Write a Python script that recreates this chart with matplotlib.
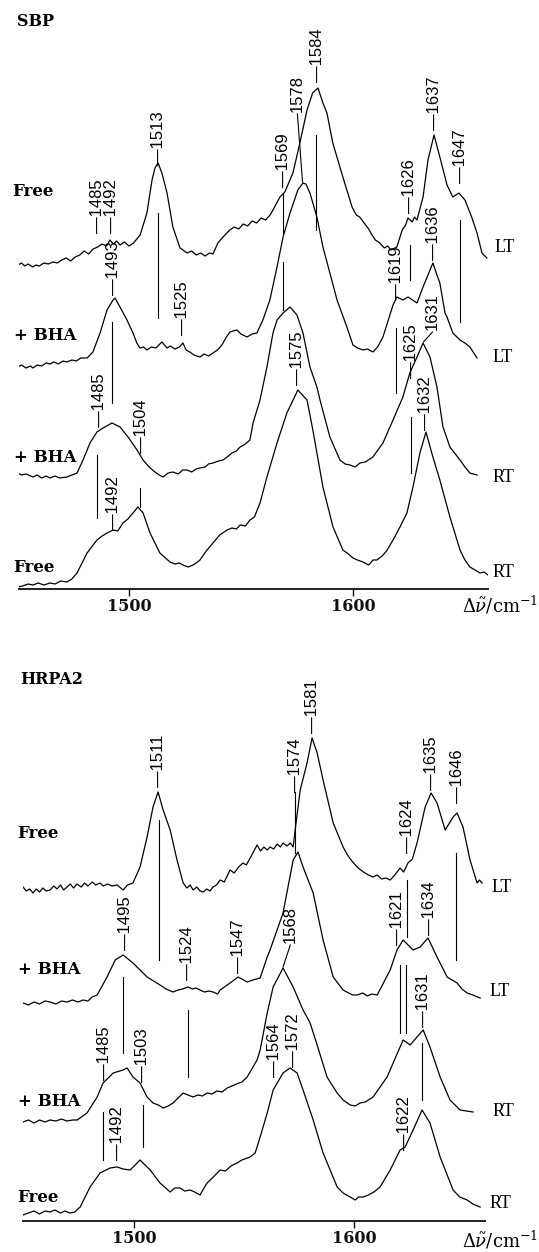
import matplotlib
matplotlib.use('Agg')
import matplotlib.pyplot as plt
import numpy as np

# ---------------- data: SBP (top panel) ----------------
sbp_free_lt_x = [1450.5, 1452, 1453.5, 1455, 1457, 1458.5, 1460, 1462, 1464, 1466, 1468, 1470, 1472, 1474, 1476,
                 1478, 1480, 1482, 1484, 1486, 1488, 1490, 1491.5, 1493, 1494.5, 1496, 1498, 1500, 1502, 1503.5,
                 1505, 1508, 1510.3, 1511.6, 1513, 1514.7, 1517, 1519.6, 1522.8, 1526, 1528, 1530, 1532, 1534,
                 1536, 1537.5, 1539.7, 1542, 1545, 1547, 1549, 1551, 1553, 1555, 1557, 1559, 1561, 1563, 1564.3,
                 1567.4, 1569.6, 1573.2, 1576.3, 1579.5, 1582, 1584.4, 1586.6, 1588.4, 1591, 1595.5, 1599.6,
                 1601.5, 1603, 1605, 1607, 1608.5, 1610, 1612, 1614, 1615.5, 1617, 1619.6, 1622, 1623.5, 1624.6,
                 1626.5, 1627.5, 1628.6, 1631.3, 1633.5, 1636.2, 1638.8, 1642, 1644.6, 1647.3, 1650, 1653, 1655.4,
                 1657.6, 1659.8]
sbp_free_lt_y = [0, 2, -1, 1, -2, 0, -1, 2, 1, 3, 2, 5, 7, 4, 8,
                 10, 14, 11, 16, 18, 21, 19, 25, 21, 24, 20, 23, 19, 22, 26,
                 30, 52, 85, 97, 102, 92, 72, 38, 17, 12, 14, 10, 12, 9,
                 12, 11, 22, 28, 35, 38, 36, 41, 39, 44, 42, 47, 45, 50, 55,
                 68, 73, 92, 122, 155, 172, 177, 162, 152, 122, 88, 58,
                 50, 48, 42, 36, 30, 25, 22, 17, 19, 15, 18, 35, 40, 47,
                 43, 48, 45, 68, 105, 130, 108, 80, 68, 72, 65, 48, 32,
                 12, 7]

sbp_bha_lt_x = [1450.4, 1452, 1454, 1456, 1457.1, 1459, 1461, 1463, 1464.7, 1466.5, 1468.5, 1470.5, 1472.3, 1474.5,
                1476.5, 1478.5, 1481.3, 1483.9, 1487.1, 1490.2, 1492.9, 1493.8, 1495, 1496, 1499.1, 1501.8, 1503.5,
                1504.9, 1506.5, 1508, 1510, 1512, 1514.7, 1517, 1518.5, 1520.5, 1522.5, 1524.1, 1525.5, 1527.2,
                1529, 1531.7, 1533.5, 1535.5, 1537.5, 1539.5, 1541.5, 1543.5, 1545.1, 1546.5, 1548.2, 1550,
                1552.7, 1555, 1557.1, 1559.8, 1562.9, 1566.1, 1568.8, 1571.9, 1575.4, 1577.7, 1579, 1580.8,
                1583.9, 1586.6, 1589.7, 1592.9, 1597.3, 1600, 1602, 1604.5, 1606.5, 1608.9, 1611, 1613.4, 1617.9,
                1619.6, 1622.3, 1624.6, 1628.6, 1631.3, 1635.7, 1637.5, 1638.8, 1641.1, 1642, 1644.6, 1647.8,
                1650, 1652.2, 1655.4]
sbp_bha_lt_y = [0, 2, -1, 1, -1, 2, 1, 4, 3, 5, 3, 6, 5, 7,
                6, 9, 9, 15, 34, 57, 67, 69, 64, 60, 47, 34, 24,
                19, 20, 17, 20, 19, 25, 19, 21, 18, 20, 24, 17, 15,
                12, 10, 13, 11, 14, 17, 22, 30, 35, 36, 37, 33,
                30, 33, 34, 47, 67, 100, 130, 154, 177, 184, 183, 174,
                150, 120, 94, 67, 40, 22, 19, 17, 18, 15, 20, 30, 62,
                70, 67, 70, 64, 80, 104, 92, 84, 54, 50, 34, 27,
                24, 20, 9]

sbp_bha_rt_x = [1450.4, 1452, 1454, 1457.1, 1459, 1461, 1463, 1464.7, 1467, 1469, 1472.3, 1474.5, 1476.8, 1479.5,
                1482.6, 1485.7, 1488.4, 1492.4, 1496, 1499.6, 1503.6, 1506.3, 1509, 1511.6, 1513.5, 1515.2, 1517.5,
                1519.6, 1522, 1524, 1525.9, 1528, 1530, 1531.7, 1534, 1535.5, 1537.5, 1540, 1542, 1543.8, 1546,
                1548, 1549.6, 1552, 1554, 1555.4, 1558.5, 1561.6, 1564.3, 1566.1, 1568.8, 1571.9, 1575, 1577.7,
                1580.8, 1583.9, 1585.3, 1589.7, 1594.2, 1596.5, 1598.7, 1601, 1603.1, 1605.5, 1608.9, 1613.4,
                1617.9, 1622.3, 1625.4, 1628.6, 1631.3, 1634.4, 1637.5, 1640.2, 1643.3, 1647.8, 1650, 1652.2,
                1655.4]
sbp_bha_rt_y = [0, -2, -1, -4, -2, -5, -3, -5, -3, -5, -4, -2, 0, 13,
                30, 41, 45, 50, 46, 36, 23, 13, 6, 1, -2, -4, 0,
                1, -1, 3, 3, 1, 4, 5, 6, 9, 10, 12, 13, 16, 20,
                22, 26, 29, 33, 50, 73, 106, 140, 153, 160, 166, 158, 140,
                106, 86, 73, 36, 13, 9, 8, 6, 10, 11, 16, 30,
                53, 76, 100, 116, 130, 116, 86, 46, 26, 13, 6, 0,
                -2]

sbp_free_rt_x = [1450.4, 1452.5, 1455, 1457.1, 1459.5, 1462, 1464.7, 1467, 1469.5, 1472.3, 1474.5, 1476.8, 1481.3,
                 1485.7, 1488, 1490.2, 1492.9, 1495, 1497.3, 1499.5, 1501.8, 1504, 1506.3, 1509.4, 1513.8, 1518.3,
                 1520.5, 1522.5, 1524.1, 1526.5, 1528.6, 1530, 1531.7, 1534.5, 1537.5, 1540.5, 1543.8, 1546, 1548,
                 1549.6, 1552, 1554, 1556, 1558.5, 1561.6, 1566.1, 1570.5, 1575.4, 1579.5, 1582.1, 1586.6, 1591.1,
                 1595.5, 1598, 1600, 1602, 1604.5, 1607, 1609, 1610.7, 1613, 1615, 1617.9, 1621, 1624.1, 1626.8,
                 1629.9, 1632.6, 1635.7, 1638.8, 1643.3, 1647.8, 1650, 1652.2, 1654.5, 1656.7, 1658.5, 1660.3]
sbp_free_rt_y = [0, 1, 3, 2, 4, 2, 4, 3, 6, 5, 8, 14, 34,
                 47, 51, 54, 57, 56, 64, 68, 74, 80, 74, 54, 34, 25,
                 23, 24, 22, 20, 22, 24, 27, 36, 44, 52, 57, 59, 58,
                 62, 61, 67, 70, 84, 110, 144, 174, 197, 187, 157, 100, 60,
                 37, 33, 29, 27, 25, 22, 27, 27, 31, 36, 47, 60, 74, 100,
                 134, 155, 130, 107, 70, 37, 27, 20, 17, 14, 15, 12]

# ---------------- data: HRPA2 (bottom panel) ----------------
hrp_free_lt_x = [1449.5, 1451, 1452.5, 1454.1, 1455.5, 1457, 1458.5, 1460, 1461.8, 1463.5, 1465, 1466.5, 1468,
                 1469.5, 1471, 1472.5, 1474, 1476, 1477.5, 1479, 1481, 1482.5, 1484.5, 1486, 1488, 1490, 1492.3,
                 1495, 1497, 1499.5, 1502.7, 1505.9, 1508.6, 1510.9, 1513.2, 1516.4, 1519.5, 1522.3, 1524, 1525.5,
                 1526.8, 1528.5, 1530, 1531.4, 1533, 1534.5, 1535.9, 1537.5, 1539.1, 1541, 1543.6, 1545.5, 1547.5,
                 1549.5, 1551, 1553, 1555.9, 1557.5, 1559, 1560.5, 1561.8, 1563.5, 1565, 1566.5, 1567.7, 1569.5,
                 1571, 1572.3, 1573.2, 1575.5, 1578.6, 1580.9, 1583.2, 1585.9, 1590.5, 1595, 1597, 1599, 1601.4,
                 1603, 1605, 1606.5, 1608.6, 1610.5, 1612.5, 1614.5, 1616.4, 1618.5, 1620.9, 1622.5, 1624.5,
                 1626.5, 1628.6, 1632.3, 1635, 1637.7, 1641.4, 1645, 1646.8, 1649.5, 1652.7, 1655.9, 1657, 1658.2]
hrp_free_lt_y = [0, -4, -2, -6, -2, -5, -1, -4, -3, 1, -2, 2, -3,
                 0, 3, -1, 3, 0, 4, 1, 5, 2, 4, 1, 3, 1, 2,
                 -3, 2, 4, 20, 50, 80, 95, 77, 57, 27, 4, -1, 2,
                 -3, 0, -4, -5, -2, -4, 0, 2, 7, 5, 17, 14, 20,
                 24, 22, 30, 42, 36, 40, 37, 40, 38, 43, 40, 44, 41,
                 44, 40, 57, 97, 124, 149, 134, 107, 64, 40, 32, 26, 20,
                 17, 14, 12, 10, 12, 8, 9, 7, 12, 19, 15, 24,
                 28, 44, 80, 94, 84, 57, 70, 74, 60, 27, 4, 7, 4]

hrp_bha_lt_x = [1449.5, 1452, 1454.5, 1457, 1459.5, 1461.8, 1464.5, 1467, 1469.5, 1472, 1474.5, 1476.8, 1479,
                1481, 1483.2, 1487.7, 1491.4, 1495, 1499.5, 1505.9, 1511.8, 1514.5, 1517.7, 1520, 1522, 1524.5,
                1526.5, 1528, 1530, 1532, 1534, 1535.9, 1538, 1539.1, 1543.6, 1547.3, 1551.4, 1554, 1557.3,
                1560.5, 1561.8, 1567.7, 1572.3, 1574.5, 1576.8, 1581.4, 1585.9, 1590.5, 1595, 1597.5, 1599.5,
                1601.4, 1604, 1606, 1608, 1610.5, 1616.4, 1619.5, 1622.3, 1626.8, 1630, 1633.6, 1637.7, 1642.3,
                1646.8, 1649, 1651.4, 1654, 1657.3]
hrp_bha_lt_y = [0, -2, 1, -1, 2, 1, -1, 2, 1, 3, 1, 3, 2,
                6, 8, 26, 43, 48, 40, 26, 18, 14, 11, 13, 14, 16,
                14, 15, 13, 11, 12, 11, 9, 13, 20, 26, 21, 23, 25,
                46, 53, 90, 143, 151, 136, 110, 63, 26, 13, 10, 8,
                8, 10, 7, 9, 8, 33, 53, 63, 53, 56, 65, 46, 26,
                20, 14, 10, 8, 5]

hrp_bha_rt_x = [1449.5, 1452, 1454.5, 1457, 1459.5, 1461.8, 1464.5, 1467, 1469.5, 1472, 1474.1, 1478.6, 1483.2,
                1485.9, 1490.5, 1495, 1496.8, 1499.5, 1502.7, 1505.9, 1508.6, 1511, 1513.2, 1515.5, 1517.7,
                1520, 1522.3, 1524.5, 1526.8, 1529, 1531, 1533.2, 1535.5, 1537.5, 1540, 1542.3, 1544.5, 1546.5,
                1549, 1551.4, 1555.9, 1557.3, 1560.5, 1563.2, 1567.7, 1572.3, 1576.8, 1580, 1583.2, 1587.7,
                1592.3, 1595, 1598.2, 1600.5, 1602.7, 1605, 1606.5, 1608.6, 1615, 1620.9, 1622.3, 1625.5, 1628.6,
                1631.4, 1634.5, 1639.1, 1643.6, 1648.2, 1651, 1654.1]
hrp_bha_rt_y = [0, 2, -1, 2, 0, 2, 1, 3, 1, 2, 2, 9, 25,
                39, 49, 52, 54, 45, 39, 25, 19, 17, 14, 16, 19,
                24, 29, 27, 25, 27, 26, 29, 28, 31, 30, 34, 36, 38,
                40, 45, 62, 72, 109, 135, 154, 135, 112, 99, 77, 45,
                29, 22, 17, 16, 19, 20, 22, 25, 45, 75, 82, 77, 85,
                92, 75, 45, 22, 12, 11, 10]

hrp_free_rt_x = [1449.5, 1452, 1454.5, 1457, 1459.5, 1461.8, 1464, 1466.5, 1468.5, 1470.9, 1473, 1475.5, 1480,
                 1484.5, 1489.1, 1492.3, 1495, 1498.2, 1500.5, 1502.7, 1505, 1507.3, 1511.8, 1516.4, 1518.5,
                 1520.9, 1523, 1525.5, 1527.5, 1530, 1531.5, 1533.2, 1536, 1539.1, 1541.5, 1544, 1546.8, 1549,
                 1552.7, 1555, 1557.3, 1560.5, 1563.2, 1567.7, 1570.9, 1574.1, 1576.8, 1581.4, 1585.9, 1592.3,
                 1595, 1598.2, 1600.5, 1602, 1604.1, 1606.5, 1609, 1611.8, 1616.4, 1620.9, 1623.2, 1626.8, 1630.9,
                 1634.5, 1639.1, 1645, 1648, 1651.4, 1654, 1657.3]
hrp_free_rt_y = [0, 2, 4, 1, 4, 3, 5, 2, 4, 2, 3, 8, 28,
                 42, 47, 48, 46, 45, 50, 55, 50, 45, 32, 23, 27,
                 27, 24, 25, 23, 20, 26, 32, 38, 45, 44, 49, 52, 55,
                 58, 62, 78, 102, 125, 142, 147, 142, 125, 95, 62, 28,
                 22, 18, 15, 18, 18, 20, 23, 28, 45, 65, 68, 85, 105,
                 92, 58, 25, 18, 15, 11, 8]

sample_labels = ["Free", "+ BHA", "+ BHA", "Free"]
temp_labels = ["LT", "LT", "RT", "RT"]
panel_titles = ["SBP", "HRPA2"]
tick_values = [1500, 1600]

# peak annotations: (text, wavenumber, label bottom, dashed?, leader end)
sbp_peaks = [("1513", 1513, 424, True, None), ("1485", 1486, 356, True, None), ("1492", 1492, 356, True, None),
             ("1569", 1568.8, 402, True, None), ("1584", 1584, 507, True, None), ("1626", 1625.4, 376, True, None),
             ("1637", 1636.6, 459, True, None), ("1647", 1647.8, 406, True, None),
             ("1493", 1493, 294, True, None), ("1525", 1524.1, 254, True, None),
             ("1578", 1575.2, 477, False, (1577.5, 407)), ("1619", 1619.6, 289, True, None),
             ("1636", 1636, 329, True, None),
             ("1485", 1487, 162, True, None), ("1504", 1505.5, 136, True, None), ("1625", 1626, 211, True, None),
             ("1631", 1635.5, 259, False, (1631.5, 247)),
             ("1492", 1493, 59, True, None), ("1575", 1575.2, 204, True, None), ("1632", 1632.5, 159, True, None)]
sbp_lines = [(1513, 271, 376), (1492.4, 186, 267), (1485.7, 71, 134), (1504.9, 82, 101),
             (1568.8, 356, 396), (1568.8, 279, 327), (1583.5, 359, 454), (1625.4, 309, 344),
             (1619.2, 196, 261), (1625.9, 116, 172), (1647.8, 267, 369)]

hrp_peaks = [("1511", 1511, 434, True, None), ("1574", 1573.2, 429, True, None), ("1581", 1581, 488, True, None),
             ("1624", 1624.5, 368, True, None), ("1635", 1635, 431, True, None), ("1646", 1646.8, 418, True, None),
             ("1495", 1495.9, 271, True, None), ("1524", 1524.5, 241, True, None), ("1547", 1547.3, 248, True, None),
             ("1621", 1619.5, 276, True, None), ("1634", 1634.5, 286, True, None),
             ("1568", 1571, 278, False, (1567.7, 254)),
             ("1485", 1486.4, 141, True, None), ("1503", 1504, 139, True, None), ("1631", 1631.4, 194, True, None),
             ("1564", 1564, 144, True, None), ("1572", 1572.3, 154, True, None),
             ("1492", 1492.3, 61, True, None), ("1622", 1622.7, 71, True, None)]
hrp_lines = [(1511.4, 261, 401), (1573.2, 368, 429), (1646.4, 261, 368), (1624.1, 284, 341),
             (1495, 168, 244), (1524.5, 144, 211), (1485.9, 61, 109), (1504, 74, 116),
             (1620.9, 188, 256), (1623.6, 188, 256), (1630.9, 121, 178)]

# ---------------- layout ----------------
W, H = 539, 1252
plt.rcParams['mathtext.fontset'] = 'dejavuserif'
fig = plt.figure(figsize=(W / 100, H / 100), dpi=100)


def fx(px):
    return px / W


def fy(py):
    return 1 - py / H


panels = [
    dict(rect=[fx(19), fy(589), 469 / W, 589 / H], xlim=(1450.9, 1660.3), ylim=(0, 589),
         traces=[(sbp_free_lt_x, sbp_free_lt_y), (sbp_bha_lt_x, sbp_bha_lt_y),
                 (sbp_bha_rt_x, sbp_bha_rt_y), (sbp_free_rt_x, sbp_free_rt_y)],
         offsets=[324, 222, 116, 2], peaks=sbp_peaks, lines=sbp_lines,
         title_pos=(17, 22), sample_pos=[(12, 192), (14, 335), (14, 458), (13, 567)],
         temp_pos=[(495, 248), (493, 357), (493, 477), (493, 572)], xlabel_y=605),
    dict(rect=[fx(23), fy(1221), 462 / W, 581 / H], xlim=(1449.5, 1659.5), ylim=(0, 581),
         traces=[(hrp_free_lt_x, hrp_free_lt_y), (hrp_bha_lt_x, hrp_bha_lt_y),
                 (hrp_bha_rt_x, hrp_bha_rt_y), (hrp_free_rt_x, hrp_free_rt_y)],
         offsets=[334, 218, 99, 6], peaks=hrp_peaks, lines=hrp_lines,
         title_pos=(20, 680), sample_pos=[(17, 833), (18, 970), (18, 1101), (17, 1198)],
         temp_pos=[(492, 887), (490, 992), (493, 1112), (490, 1203)], xlabel_y=1240),
]

for i, p in enumerate(panels):
    ax = fig.add_axes(p['rect'])
    ax.set_xlim(*p['xlim'])
    ax.set_ylim(*p['ylim'])
    ax.patch.set_visible(False)
    for s in ['top', 'left', 'right']:
        ax.spines[s].set_visible(False)
    ax.spines['bottom'].set_linewidth(1.4)
    ax.spines['bottom'].set_color('#222222')
    ax.set_yticks([])
    ax.set_xticks(tick_values)
    ax.set_xticklabels([str(t) for t in tick_values], family='DejaVu Serif', weight='bold', fontsize=11.5)
    ax.tick_params(axis='x', direction='out', length=5, width=1.0, pad=1.5, colors='#111111')

    for (xs, ys), off in zip(p['traces'], p['offsets']):
        ax.plot(xs, np.array(ys) + off, color='black', lw=0.9, solid_joinstyle='round')

    for (xw, y0, y1) in p['lines']:
        ax.plot([xw, xw], [y0, y1], color='black', lw=0.8)

    for (txt, xw, yb, dash, lead) in p['peaks']:
        s = ('\u2014' + txt) if dash else txt
        ax.text(xw, yb, s, rotation=90, ha='center', va='bottom', fontsize=12,
                family='Liberation Sans', color='black')
        if lead is not None:
            ax.plot([xw, lead[0]], [yb - 2, lead[1]], color='black', lw=0.8)

    fig.text(fx(p['title_pos'][0]), fy(p['title_pos'][1]), panel_titles[i], family='DejaVu Serif',
             weight='bold', fontsize=11.5, ha='left', va='center')
    for lab, (px, py) in zip(sample_labels, p['sample_pos']):
        fig.text(fx(px), fy(py), lab, family='DejaVu Serif', weight='bold', fontsize=12,
                 ha='left', va='center')
    for lab, (px, py) in zip(temp_labels, p['temp_pos']):
        fig.text(fx(px), fy(py), lab, family='Liberation Serif', fontsize=13, ha='left', va='center')
    fig.text(fx(538), fy(p['xlabel_y']), r'$\Delta\tilde{\nu}/\mathrm{cm}^{-1}$', fontsize=13,
             ha='right', va='center')

fig.savefig('out.png', dpi=100)
